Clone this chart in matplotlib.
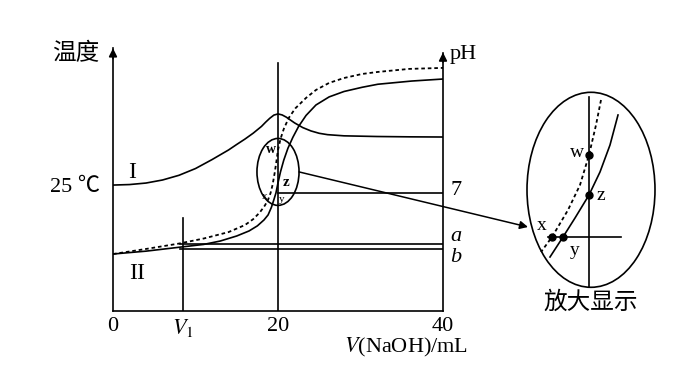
import matplotlib
matplotlib.use("Agg")
import matplotlib.pyplot as plt
from matplotlib.patches import Ellipse, ConnectionPatch

plt.rcParams['font.family'] = ['Liberation Serif', 'Noto Sans CJK SC']
plt.rcParams['mathtext.fontset'] = 'stix'

# eje x: V(NaOH) en mL ; eje y: unidades de pH (la temperatura se dibuja en la misma escala)
v_temp = [0, 2, 4, 6, 8, 10, 12, 14, 15, 16, 17, 18, 18.5, 19, 19.5, 20, 20.5, 21, 21.5,
          22, 23, 24, 25, 26, 28, 32, 36, 40]
temp_I = [7.47, 7.50, 7.59, 7.77, 8.05, 8.45, 8.98, 9.55, 9.88, 10.2, 10.55, 10.95, 11.2,
          11.43, 11.62, 11.69, 11.63, 11.5, 11.33, 11.16, 10.88, 10.68, 10.54, 10.46,
          10.39, 10.35, 10.33, 10.32]

v_dot = [0, 4, 8, 11, 14, 16, 17, 17.8, 18.4, 18.8, 19.1, 19.35, 19.6, 19.8, 20, 20.3,
         20.7, 21.3, 22.1, 23.4, 24.6, 26.2, 28, 30.2, 32.1, 35.9, 40]
ph_dot = [3.38, 3.68, 4.0, 4.3, 4.68, 5.1, 5.45, 5.85, 6.25, 6.6, 7.0, 7.5, 8.2, 8.85,
          9.55, 10.2, 10.8, 11.45, 12.02, 12.64, 13.11, 13.53, 13.82, 14.06, 14.18,
          14.36, 14.42]

v_sol = [0, 4, 8, 11, 13, 15, 16.5, 17.5, 18.3, 18.8, 19.2, 19.5, 19.75, 20, 20.3, 20.7,
         21.2, 21.8, 22.5, 23.4, 24.6, 26.2, 28, 30.2, 32.1, 36.2, 40]
ph_sol = [3.38, 3.55, 3.78, 3.95, 4.15, 4.45, 4.75, 5.05, 5.4, 5.7, 6.15, 6.6, 7.0, 7.6,
          8.25, 8.95, 9.65, 10.3, 10.95, 11.6, 12.22, 12.7, 13.02, 13.27, 13.45, 13.64,
          13.76]

v1 = 8.47
y_25 = 7.47
ph_a = 3.97
ph_b = 3.68

# vista ampliada
zoom_v_dot = [20.3, 20.175, 20.0, 19.775, 19.475, 19.075, 18.8]
zoom_ph_dot = [10.425, 9.8, 9.05, 8.3, 7.675, 7.0, 6.625]
zoom_v_sol = [20.725, 20.525, 20.275, 20.0, 19.65, 19.35, 19.025]
zoom_ph_sol = [10.05, 9.3, 8.625, 8.05, 7.475, 7.0, 6.5]
pt_names = ['w', 'z', 'x', 'y']
pt_v = [20.0, 20.0, 19.075, 19.35]
pt_ph = [9.05, 8.05, 7.0, 7.0]

fig = plt.figure(figsize=(6.83, 3.66), dpi=100)
ax = fig.add_axes([113/683, 1-311/366, 330/683, 263/366])
ax.set_xlim(0, 40)
ax.set_ylim(0, 15.6)
ax.spines['top'].set_visible(False)
for s in ['left', 'bottom', 'right']:
    ax.spines[s].set_linewidth(1.2)
ax.spines['right'].set_bounds(0, 15.3)

lw = 1.2
ax.plot(v_temp, temp_I, color='k', lw=lw)
ax.plot(v_sol, ph_sol, color='k', lw=lw)
ax.plot(v_dot, ph_dot, color='k', lw=1.3, ls=(0, (2, 1.6)))

ax.plot([20, 20], [0, 14.71], color='k', lw=lw)
ax.plot([v1, v1], [0, 5.52], color='k', lw=lw)
ax.plot([20, 40], [7, 7], color='k', lw=lw)
ax.plot([v1 - 0.3, 40], [ph_a, ph_a], color='k', lw=lw)
ax.plot([v1 - 0.3, 40], [ph_b, ph_b], color='k', lw=lw)

# flechas de los ejes
ax.annotate('', xy=(0, 15.75), xytext=(0, 14.8), annotation_clip=False,
            arrowprops=dict(arrowstyle='-|>', color='k', lw=1.2, mutation_scale=12))
ax.annotate('', xy=(40, 15.5), xytext=(40, 14.6), annotation_clip=False,
            arrowprops=dict(arrowstyle='-|>', color='k', lw=1.2, mutation_scale=12))

ax.set_xticks([0, v1, 20, 40])
ax.set_xticklabels(['0', r'$\mathit{V}_{\mathrm{1}}$', '20', '40'], fontsize=16)
ax.tick_params(axis='x', length=0, pad=4)
ax.set_yticks([y_25])
ax.set_yticklabels(['25 ℃'], fontsize=16)
ax.tick_params(axis='y', length=0, pad=9)

ax.text(1.076, -0.137, r'$\mathit{V}$(NaOH)/mL', transform=ax.transAxes,
        ha='right', va='center', fontsize=16)
ax.text(40.8, 15.2, 'pH', fontsize=16, va='center', ha='left')
ax.text(40.9, 7.15, '7', fontsize=16, va='center', ha='left')
ax.text(40.9, 4.39, 'a', fontsize=16, va='center', ha='left', style='italic')
ax.text(40.9, 3.2, 'b', fontsize=16, va='center', ha='left', style='italic')
ax.text(2.35, 8.19, 'I', fontsize=17, va='center', ha='center')
ax.text(2.9, 2.25, 'II', fontsize=17, va='center', ha='center')
fig.text(76/683, 1-54/366, '温度', fontsize=17, ha='center', va='center',
         family=['Noto Sans CJK SC'])

ax.add_patch(Ellipse((20, 8.25), 5.1, 3.97, fill=False, color='k', lw=lw))
ax.text(19.15, 9.6, 'w', fontsize=10, ha='center', va='center', weight='bold')
ax.text(21.0, 7.6, 'z', fontsize=11, ha='center', va='center', weight='bold')
ax.text(18.4, 6.8, 'x', fontsize=8, ha='center', va='center')
ax.text(20.4, 6.6, 'y', fontsize=8, ha='center', va='center')

# vista ampliada
axin = fig.add_axes([525/683, 1-297/366, 136/683, 212/366])
axin.set_xlim(18.4, 21.8)
axin.set_ylim(5.5, 10.8)
axin.axis('off')
axin.add_patch(Ellipse((20.05, 8.18), 3.2, 4.875, fill=False, color='k', lw=lw))
axin.plot([20, 20], [5.75, 10.5], color='k', lw=lw)
axin.plot([18.98, 20.8], [7, 7], color='k', lw=lw)
axin.plot(zoom_v_dot, zoom_ph_dot, color='k', lw=1.3, ls=(0, (2, 1.6)))
axin.plot(zoom_v_sol, zoom_ph_sol, color='k', lw=lw)
axin.plot(pt_v, pt_ph, 'o', color='k', ms=5)
offs = {'w': (-0.3, 0.05), 'z': (0.3, 0.0), 'x': (-0.25, 0.3), 'y': (0.3, -0.33)}
for n, v, p in zip(pt_names, pt_v, pt_ph):
    dx, dy = offs[n]
    axin.text(v + dx, p + dy, n, fontsize=14, ha='center', va='center')

fig.text(591/683, 1-302/366, '放大显示', fontsize=17, ha='center', va='center',
         family=['Noto Sans CJK SC'])

con = ConnectionPatch(xyA=(22.55, 8.25), coordsA=ax.transData,
                      xyB=(18.475, 7.25), coordsB=axin.transData,
                      arrowstyle='-|>', mutation_scale=12, color='k', lw=1.1)
fig.add_artist(con)

fig.savefig('out.png', dpi=100, facecolor='white')
